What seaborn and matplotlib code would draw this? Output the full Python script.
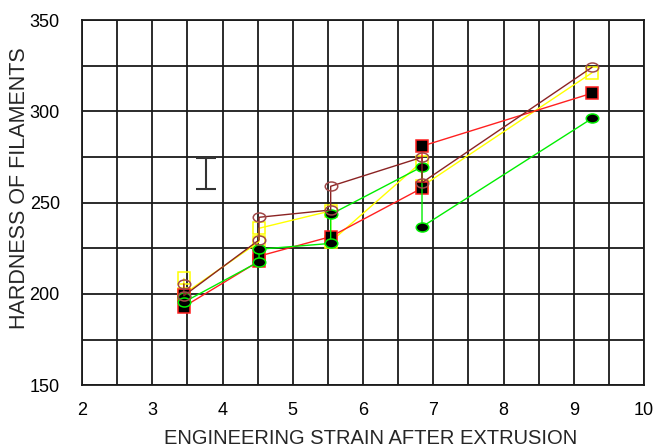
import numpy as np
import pandas as pd
import seaborn as sns
import matplotlib
matplotlib.use("Agg")
import matplotlib.pyplot as plt
from matplotlib.path import Path
from matplotlib.transforms import Affine2D

# Hardness of filaments vs. engineering strain, four filament series.
# Replicate measurements at the same strain are joined in measurement order.
strain_red = [3.45, 3.45, 4.52, 4.52, 5.54, 6.84, 6.84, 9.26]
hardness_red = [199.5, 193, 218, 220.7, 231.4, 258, 281, 310]

strain_green = [3.45, 3.45, 4.52, 4.52, 5.54, 5.54, 6.84, 6.84, 9.26]
hardness_green = [198.5, 195.5, 217.7, 224.5, 227.7, 243.6, 269.7, 236.8, 296.2]

strain_yellow = [3.45, 3.45, 4.52, 4.52, 5.54, 5.54, 6.84, 6.84, 9.26]
hardness_yellow = [208.5, 200, 228.6, 236, 245.5, 228.6, 272.5, 259, 321.2]

strain_brown = [3.45, 3.45, 4.52, 4.52, 5.54, 5.54, 6.84, 6.84, 9.26]
hardness_brown = [205.5, 199, 229.6, 242, 246, 259, 274.9, 261, 324.2]

# Representative scatter bar
bar_strain = 3.76
bar_center = 265.8
bar_half = 8.5

x_ticks = [2, 3, 4, 5, 6, 7, 8, 9, 10]
y_ticks = [150, 200, 250, 300, 350]

sns.set_style("white")
plt.rcParams["font.family"] = ["Liberation Sans", "DejaVu Sans"]

fig = plt.figure(figsize=(6.53, 4.47), dpi=100)
ax = fig.add_axes([82 / 653, 1 - 385.2 / 447, (644 - 82) / 653, (385.2 - 20.2) / 447])

ellipse = Affine2D().scale(1.0, 0.72).transform_path(Path.unit_circle())

series = [
    ("yellow", strain_yellow, hardness_yellow, "#ffff00", "s", "none", "#ffff00", 8, 3),
    ("red", strain_red, hardness_red, "#ff2020", "s", "black", "#ff2020", 8, 4),
    ("green", strain_green, hardness_green, "#00ee00", ellipse, "black", "#00ee00", 9, 5),
    ("brown", strain_brown, hardness_brown, "#8b2323", ellipse, "none", "#a04848", 9, 6),
]

for name, xs, ys, col, mk, fc, ec, ms, z in series:
    df = pd.DataFrame({"strain": xs, "hardness": ys})
    sns.lineplot(data=df, x="strain", y="hardness", sort=False, estimator=None,
                 color=col, lw=1.0, marker=mk, markersize=ms,
                 markerfacecolor=fc, markeredgecolor=ec, markeredgewidth=1.1,
                 ax=ax, zorder=z)

ax.errorbar([bar_strain], [bar_center], yerr=[bar_half], fmt="none",
            ecolor="#333333", elinewidth=1.5, capsize=7, capthick=1.5, zorder=3)

ax.set_xlim(2, 10)
ax.set_ylim(150, 350)
ax.set_xticks(x_ticks)
ax.set_yticks(y_ticks)
ax.set_xticks(np.arange(2, 10.01, 0.5), minor=True)
ax.set_yticks(np.arange(150, 350.1, 25), minor=True)
ax.grid(True, which="both", color="#1a1a1a", lw=1.3)
ax.set_axisbelow(True)
ax.tick_params(which="both", length=0, labelsize=13, colors="black")
ax.tick_params(axis="y", pad=16)
ax.tick_params(axis="x", pad=12)
for sp in ax.spines.values():
    sp.set_color("#1a1a1a")
    sp.set_linewidth(1.3)

ax.set_xlabel("ENGINEERING STRAIN AFTER EXTRUSION", fontsize=14.5)
ax.set_ylabel("HARDNESS OF FILAMENTS", fontsize=15.5)
ax.xaxis.set_label_coords(0.514, -0.12)
ax.yaxis.set_label_coords(-0.092, 0.54)

fig.savefig("out.png", dpi=100)
